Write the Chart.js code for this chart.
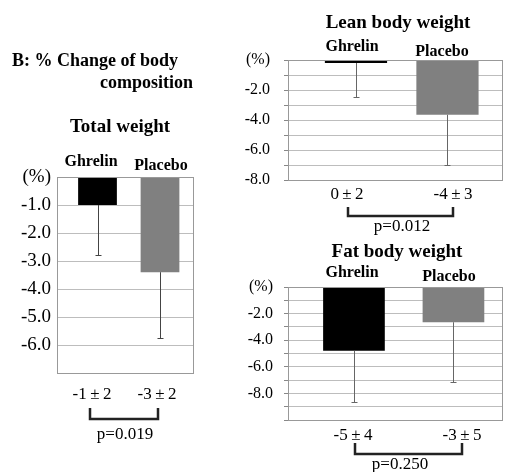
<!DOCTYPE html>
<html><head><meta charset="utf-8">
<script src="https://cdn.jsdelivr.net/npm/chart.js@4.4.0/dist/chart.umd.min.js"></script>
<style>
html,body{margin:0;padding:0;background:#fff;}
#wrap{position:relative;width:505px;height:472px;overflow:hidden;background:#fff;}
canvas{position:absolute;left:0;top:0;}
</style></head><body>
<div id="wrap">
<canvas id="c1" width="505" height="472"></canvas>
<canvas id="c2" width="505" height="472"></canvas>
<canvas id="c3" width="505" height="472"></canvas>
</div>
<script>
// ---- data ----
const groups = ['Ghrelin', 'Placebo'];
const barColors = ['#000000', '#808080'];

const totalMeans = [-1.0, -3.4];
const totalSD = [1.8, 2.35];
const totalStats = ['-1\u2009\u00b1\u20092', '-3\u2009\u00b1\u20092'];
const totalP = 'p=0.019';
const totalTickLabels = ['(%)', '-1.0', '-2.0', '-3.0', '-4.0', '-5.0', '-6.0', ''];

const leanMeans = [-0.2, -3.65];
const leanSD = [2.25, 3.35];
const leanStats = ['0\u2009\u00b1\u20092', '-4\u2009\u00b1\u20093'];
const leanP = 'p=0.012';
const leanTickLabels = ['(%)', '', '-2.0', '', '-4.0', '', '-6.0', '', '-8.0'];

const fatMeans = [-4.8, -2.65];
const fatSD = [3.85, 4.5];
const fatStats = ['-5\u2009\u00b1\u20094', '-3\u2009\u00b1\u20095'];
const fatP = 'p=0.250';
const fatTickLabels = ['(%)', '', '-2.0', '', '-4.0', '', '-6.0', '', '-8.0', '', ''];

// ---- drawing helpers ----
const SERIF = '"Liberation Serif", "Times New Roman", serif';
function txt(ctx, s, x, y, font, align) {
  ctx.save();
  ctx.font = font; ctx.textAlign = align || 'center'; ctx.textBaseline = 'middle';
  ctx.fillStyle = '#000'; ctx.fillText(s, x, y);
  ctx.restore();
}

const decor = {
  id: 'decor',
  afterDatasetsDraw(chart, args, o) {
    const ctx = chart.ctx, ys = chart.scales.y, a = chart.chartArea;
    const meta = chart.getDatasetMeta(0);
    ctx.save();
    // error bars (downward only)
    ctx.strokeStyle = o.errColor; ctx.lineWidth = 1;
    meta.data.forEach((el, i) => {
      const m = o.means[i], sd = o.sd[i];
      const y0 = ys.getPixelForValue(m), y1 = ys.getPixelForValue(m - sd);
      const x = Math.round(el.x) + 0.5;
      ctx.beginPath();
      ctx.moveTo(x, y0); ctx.lineTo(x, Math.round(y1) + 0.5);
      ctx.moveTo(x - o.cap, Math.round(y1) + 0.5); ctx.lineTo(x + o.cap, Math.round(y1) + 0.5);
      ctx.stroke();
    });
    // frame
    ctx.strokeStyle = '#999'; ctx.lineWidth = 1;
    ctx.strokeRect(Math.round(a.left) + 0.5, Math.round(a.top) + 0.5, Math.round(a.right - a.left), Math.round(a.bottom - a.top));
    ctx.restore();
  },
  afterDraw(chart, args, o) {
    const ctx = chart.ctx;
    (o.texts || []).forEach(t => txt(ctx, t.s, t.x, t.y, t.font, t.align));
    const b = o.bracket;
    ctx.save();
    ctx.strokeStyle = '#222'; ctx.lineWidth = 2.5; ctx.lineJoin = 'miter';
    ctx.beginPath();
    ctx.moveTo(b.x1, b.y1); ctx.lineTo(b.x1, b.y2); ctx.lineTo(b.x2, b.y2); ctx.lineTo(b.x2, b.y1);
    ctx.stroke();
    ctx.restore();
  }
};

function makeChart(id, cfg) {
  const data = cfg.means.map((v, i) => ({ x: i + 1, y: v }));
  return new Chart(document.getElementById(id), {
    type: 'bar',
    data: {
      datasets: [{
        data: data,
        backgroundColor: barColors,
        borderWidth: 0,
        barPercentage: cfg.barPct,
        categoryPercentage: 1
      }]
    },
    options: {
      responsive: false, animation: false, devicePixelRatio: 1,
      layout: { padding: cfg.padding },
      plugins: {
        legend: { display: false }, tooltip: { enabled: false },
        decor: {
          means: cfg.means, sd: cfg.sd, errColor: cfg.errColor, cap: cfg.cap,
          texts: cfg.texts, bracket: cfg.bracket
        }
      },
      scales: {
        x: {
          type: 'linear', display: false, offset: false, min: cfg.xMin, max: cfg.xMax,
          grid: { offset: false },
          afterBuildTicks: s => { s.ticks = data.map(d => ({ value: d.x })); }
        },
        y: {
          min: cfg.yMin, max: 0,
          afterFit: s => { s.width = cfg.axisW; },
          ticks: {
            stepSize: 1, autoSkip: false, color: '#000', padding: cfg.tickPad,
            font: { family: SERIF, size: cfg.tickSize },
            callback: v => cfg.tickLabels[Math.round(-v)]
          },
          grid: { color: '#bdbdbd', drawTicks: cfg.drawTicks, tickLength: 4, tickColor: '#888' },
          border: { display: true, color: '#999' }
        }
      }
    },
    plugins: [decor]
  });
}

const B16 = 'bold 16px ' + SERIF, B18 = 'bold 18px ' + SERIF, B19 = 'bold 19px ' + SERIF, R17 = '17px ' + SERIF;

// Total weight
makeChart('c1', {
  means: totalMeans, sd: totalSD, yMin: -(totalTickLabels.length - 1), tickLabels: totalTickLabels,
  xMin: 0.352, xMax: 2.528, barPct: 0.62,
  padding: { left: 0, top: 177, right: 312, bottom: 99 }, axisW: 57, tickPad: 6, tickSize: 19, drawTicks: false,
  errColor: '#444', cap: 3,
  texts: [
    { s: 'B: % Change of body', x: 12, y: 61, font: B18, align: 'left' },
    { s: 'composition', x: 193, y: 83, font: B18, align: 'right' },
    { s: 'Total weight', x: 120, y: 127, font: B19 },
    { s: groups[0], x: 91, y: 162, font: B16 },
    { s: groups[1], x: 161, y: 166, font: B16 },
    { s: totalStats[0], x: 92, y: 395, font: R17 },
    { s: totalStats[1], x: 157, y: 395, font: R17 },
    { s: totalP, x: 125, y: 435, font: R17 }
  ],
  bracket: { x1: 90, x2: 158, y1: 408, y2: 419 }
});

// Lean body weight
makeChart('c2', {
  means: leanMeans, sd: leanSD, yMin: -(leanTickLabels.length - 1), tickLabels: leanTickLabels,
  xMin: 0.257, xMax: 2.596, barPct: 0.68,
  padding: { left: 0, top: 60, right: 3, bottom: 292 }, axisW: 288, tickPad: 14, tickSize: 16, drawTicks: true,
  errColor: '#666', cap: 3,
  texts: [
    { s: 'Lean body weight', x: 398, y: 23, font: B19 },
    { s: groups[0], x: 352, y: 47, font: B16 },
    { s: groups[1], x: 442, y: 52, font: B16 },
    { s: leanStats[0], x: 347, y: 195, font: R17 },
    { s: leanStats[1], x: 453, y: 195, font: R17 },
    { s: leanP, x: 402, y: 227, font: R17 }
  ],
  bracket: { x1: 348, x2: 453, y1: 207, y2: 216 }
});

// Fat body weight
makeChart('c3', {
  means: fatMeans, sd: fatSD, yMin: -(fatTickLabels.length - 1), tickLabels: fatTickLabels,
  xMin: 0.337, xMax: 2.488, barPct: 0.62,
  padding: { left: 0, top: 287, right: 3, bottom: 52 }, axisW: 288, tickPad: 11, tickSize: 16, drawTicks: true,
  errColor: '#666', cap: 3,
  texts: [
    { s: 'Fat body weight', x: 397, y: 252, font: B19 },
    { s: groups[0], x: 352, y: 273, font: B16 },
    { s: groups[1], x: 449, y: 277, font: B16 },
    { s: fatStats[0], x: 353, y: 436, font: R17 },
    { s: fatStats[1], x: 462, y: 436, font: R17 },
    { s: fatP, x: 400, y: 465, font: R17 }
  ],
  bracket: { x1: 355, x2: 462, y1: 443, y2: 454 }
});
</script>
</body></html>
